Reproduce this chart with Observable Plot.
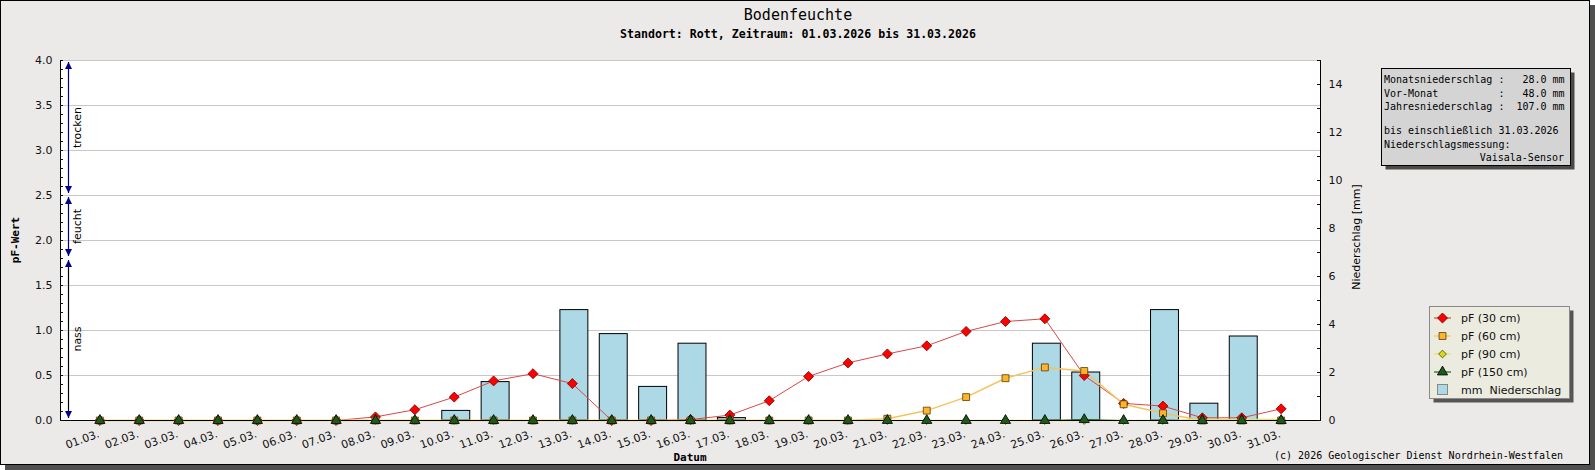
<!DOCTYPE html>
<html>
<head>
<meta charset="utf-8">
<script src="https://cdn.jsdelivr.net/npm/d3@7"></script>
<script src="https://cdn.jsdelivr.net/npm/@observablehq/plot@0.6"></script>
<style>
  html, body { margin: 0; padding: 0; background: #ffffff; }
  #chart svg { display: block; }
</style>
</head>
<body>
<div id="chart"></div>
<script>
// ---------- data ----------
const days = [1,2,3,4,5,6,7,8,9,10,11,12,13,14,15,16,17,18,19,20,21,22,23,24,25,26,27,28,29,30,31];
const dayLabels = ["01.03.","02.03.","03.03.","04.03.","05.03.","06.03.","07.03.","08.03.","09.03.","10.03.",
  "11.03.","12.03.","13.03.","14.03.","15.03.","16.03.","17.03.","18.03.","19.03.","20.03.",
  "21.03.","22.03.","23.03.","24.03.","25.03.","26.03.","27.03.","28.03.","29.03.","30.03.","31.03."];
const pf30  = [0,0,0,0,0,0,0,0.04,0.12,0.26,0.44,0.52,0.41,0,0,0.01,0.06,0.22,0.49,0.64,0.74,0.83,0.99,1.10,1.13,0.50,0.19,0.16,0.03,0.03,0.13];
const pf60  = [0,0,0,0,0,0,0,0,0,0,0,0,0,0,0,0,0,0,0,0,0.02,0.11,0.26,0.47,0.59,0.55,0.18,0.08,0,0,0];
const pf90  = [0,0,0,0,0,0,0,0,0,0,0,0,0,0,0,0,0,0,0,0,0,0,0,0,0,0,0,0,0.01,0.01,0.01];
const pf150 = [0,0,0,0,0,0,0,0,0,0,0,0,0,0,0,0,0,0,0,0,0,0,0,0,0,0.01,0,0,0,0,0];
const rainMm = [0,0,0,0,0,0,0,0,0,0.4,1.6,0,4.6,3.6,1.4,3.2,0.1,0,0,0,0,0,0,0,3.2,2.0,0,4.6,0.7,3.5,0];

const pfTicks = [0,0.5,1.0,1.5,2.0,2.5,3.0,3.5,4.0];
const mmTicks = [0,2,4,6,8,10,12,14];
const pfMax = 4, mmMax = 15;

const zones = [
  {label: "trocken", lo: 2.5, hi: 4.0, color: "#000080"},
  {label: "feucht",  lo: 1.8, hi: 2.5, color: "#000080"},
  {label: "nass",    lo: 0.0, hi: 1.8, color: "#000000"}
];

const seriesNames = ["pF (30 cm)","pF (60 cm)","pF (90 cm)","pF (150 cm)","mm  Niederschlag"];
const titleText = "Bodenfeuchte";
const subtitleText = "Standort: Rott, Zeitraum: 01.03.2026 bis 31.03.2026";
const infoLines = ["Monatsniederschlag :   28.0 mm",
                   "Vor-Monat          :   48.0 mm",
                   "Jahresniederschlag :  107.0 mm",
                   "",
                   "bis einschließlich 31.03.2026",
                   "Niederschlagsmessung:"];
const infoLast = "Vaisala-Sensor";
const copyright = "(c) 2026 Geologischer Dienst Nordrhein-Westfalen";

// ---------- build ----------
const k = pfMax / mmMax; // mm -> pF axis units
const rows = days.map((d, i) => ({day: d, pf30: pf30[i], pf60: pf60[i], pf90: pf90[i], pf150: pf150[i], rain: rainMm[i]}));
const rainRows = rows.filter(r => r.rain > 0);

const sty = {
  s30: {line: "#d84848", fill: "#ff0000", stroke: "#700000", symbol: "diamond2", r: 4.5, lw: 1},
  s60: {line: "#f5c35e", fill: "#ffb52a", stroke: "#5a3a00", symbol: "square", r: 3.9, lw: 1.5},
  s90: {line: "#e6e070", fill: "#d8d81e", stroke: "#4a4a00", symbol: "diamond2", r: 3.5, lw: 1.5},
  s150:{line: "#1e6a1e", fill: "#1e5a1e", stroke: "#000000", symbol: "triangle", r: 3.8, lw: 1}
};
const keys = [["pf30", sty.s30], ["pf60", sty.s60], ["pf90", sty.s90], ["pf150", sty.s150]];

const plot = Plot.plot({
  width: 1595, height: 470,
  marginLeft: 60, marginRight: 275, marginTop: 60, marginBottom: 50,
  x: {domain: [0, 32], axis: null},
  y: {domain: [0, pfMax], axis: null},
  style: {fontFamily: "DejaVu Sans", fontSize: "11px", background: "transparent", color: "#111"},
  marks: [
    Plot.frame({fill: "white", stroke: null}),
    Plot.gridY(pfTicks.filter(v => v > 0), {stroke: "#c8c8c8", strokeOpacity: 1}),
    Plot.rectY(rainRows, {x1: d => d.day - 0.355, x2: d => d.day + 0.355, y1: 0, y2: d => d.rain * k,
      fill: "#add8e6", stroke: "#000", strokeWidth: 1, dx: 2}),
    ...keys.map(([key, s]) => Plot.line(rows, {x: "day", y: key, stroke: s.line, strokeWidth: s.lw})),
    Plot.ruleY([0], {stroke: "#000"}),
    Plot.ruleX([0], {stroke: "#000"}),
    Plot.ruleX([32], {stroke: "#000"}),
    ...keys.map(([key, s]) => Plot.dot(rows, {x: "day", y: key, symbol: s.symbol, r: s.r, fill: s.fill, stroke: s.stroke, strokeWidth: 0.8})),
    // left axis
    Plot.axisY(d3.range(0, 4.0001, 0.1), {anchor: "left", tickSize: -3, tickFormat: () => "", label: null}),
    Plot.axisY(pfTicks, {anchor: "left", tickSize: -3, tickPadding: 11, tickFormat: d3.format(".1f"), label: null}),
    // right axis (mm)
    Plot.axisY(d3.range(0, mmMax + 0.001, 1).map(v => v * k), {anchor: "right", tickSize: -4, tickFormat: () => "", label: null}),
    Plot.axisY(mmTicks.map(v => v * k), {anchor: "right", tickSize: -4, tickPadding: 12, tickFormat: v => String(Math.round(v / k)), label: null}),
    // x axis
    Plot.axisX(days, {anchor: "bottom", tickSize: 0, tickPadding: 13, tickRotate: -20, dx: -1, tickFormat: d => dayLabels[d - 1], label: null})
  ]
});

const svg = d3.select(plot);
const ys = plot.scale("y");
const mono = "DejaVu Sans Mono";

// background, border and shadow
svg.insert("rect", ":first-child").attr("x", 0.5).attr("y", 0.5).attr("width", 1589).attr("height", 464)
  .attr("fill", "#eceae8").attr("stroke", "#000");
svg.insert("rect", ":first-child").attr("x", 5).attr("y", 5).attr("width", 1590).attr("height", 465).attr("fill", "#505050");

const txt = (g, x, y, t, opts = {}) => g.append("text").attr("x", x).attr("y", y)
  .attr("text-anchor", opts.anchor || "start").attr("font-family", opts.font || mono)
  .attr("font-size", opts.size || 10).attr("font-weight", opts.weight || "normal")
  .attr("fill", opts.fill || "#000").attr("transform", opts.transform || null)
  .attr("xml:space", "preserve").style("white-space", "pre").text(t);

// zone arrows and labels
const ax = 68.5;
const za = svg.append("g");
zones.forEach(z => {
  const yTop = ys.apply(z.hi), yBot = ys.apply(z.lo), yMid = ys.apply((z.lo + z.hi) / 2);
  za.append("line").attr("x1", ax).attr("x2", ax).attr("y1", yTop + 2).attr("y2", yBot - 2)
    .attr("stroke", z.color).attr("stroke-width", 1.2);
  za.append("path").attr("d", `M${ax},${yTop + 2} L${ax - 3.5},${yTop + 9} L${ax + 3.5},${yTop + 9} Z`).attr("fill", "#000090");
  za.append("path").attr("d", `M${ax},${yBot - 2} L${ax - 3.5},${yBot - 9} L${ax + 3.5},${yBot - 9} Z`).attr("fill", "#000090");
  txt(za, 0, 0, z.label, {anchor: "middle", font: "DejaVu Sans", size: 11, transform: `translate(80.5,${yMid}) rotate(-90)`});
});

// titles
txt(svg, 798, 19.5, titleText, {anchor: "middle", size: 15});
txt(svg, 798, 37.5, subtitleText, {anchor: "middle", size: 11.6, weight: "bold"});

// axis labels
txt(svg, 0, 0, "pF-Wert", {anchor: "middle", size: 11, weight: "bold", transform: "translate(19,240) rotate(-90)"});
txt(svg, 690, 461, "Datum", {anchor: "middle", size: 11, weight: "bold"});
txt(svg, 0, 0, "Niederschlag [mm]", {anchor: "middle", size: 11, font: "DejaVu Sans", transform: "translate(1360,237) rotate(-90)"});

// info box
const ib = svg.append("g");
ib.append("rect").attr("x", 1385.5).attr("y", 72.5).attr("width", 189).attr("height", 97).attr("fill", "#4a4a4a");
ib.append("rect").attr("x", 1381.5).attr("y", 68.5).attr("width", 189).attr("height", 97).attr("fill", "#d4d4d4").attr("stroke", "#000");
const infoY = [83, 96.5, 110, 122, 134, 147.5];
infoLines.forEach((t, i) => txt(ib, 1384, infoY[i], t));
txt(ib, 1564, 161, infoLast, {anchor: "end"});

// legend
const lg = svg.append("g");
lg.append("rect").attr("x", 1433.5).attr("y", 310.5).attr("width", 140).attr("height", 92).attr("fill", "#555");
lg.append("rect").attr("x", 1429.5).attr("y", 306.5).attr("width", 140).attr("height", 92).attr("fill", "#ecebe0").attr("stroke", "#8a8a8a");
const legY = [318, 336, 354, 372, 389.5];
const symMap = {diamond2: d3.symbolDiamond2, square: d3.symbolSquare, triangle: d3.symbolTriangle};
keys.forEach(([key, s], i) => {
  const y = legY[i];
  lg.append("line").attr("x1", 1434).attr("x2", 1451).attr("y1", y).attr("y2", y).attr("stroke", s.line).attr("stroke-width", 1.2);
  lg.append("path").attr("transform", `translate(1442.5,${y})`)
    .attr("d", d3.symbol(symMap[s.symbol], Math.PI * s.r * s.r)())
    .attr("fill", s.fill).attr("stroke", s.stroke).attr("stroke-width", 0.8);
  txt(lg, 1461, y + 4, seriesNames[i], {font: "DejaVu Sans", size: 11, fill: "#111"});
});
lg.append("rect").attr("x", 1437.5).attr("y", 384.5).attr("width", 10).attr("height", 10).attr("fill", "#add8e6").attr("stroke", "#888");
txt(lg, 1461, legY[4] + 4, seriesNames[4], {font: "DejaVu Sans", size: 11, fill: "#111"});

// copyright
txt(svg, 1563, 459, copyright, {anchor: "end"});

document.getElementById("chart").appendChild(plot);
</script>
</body>
</html>
